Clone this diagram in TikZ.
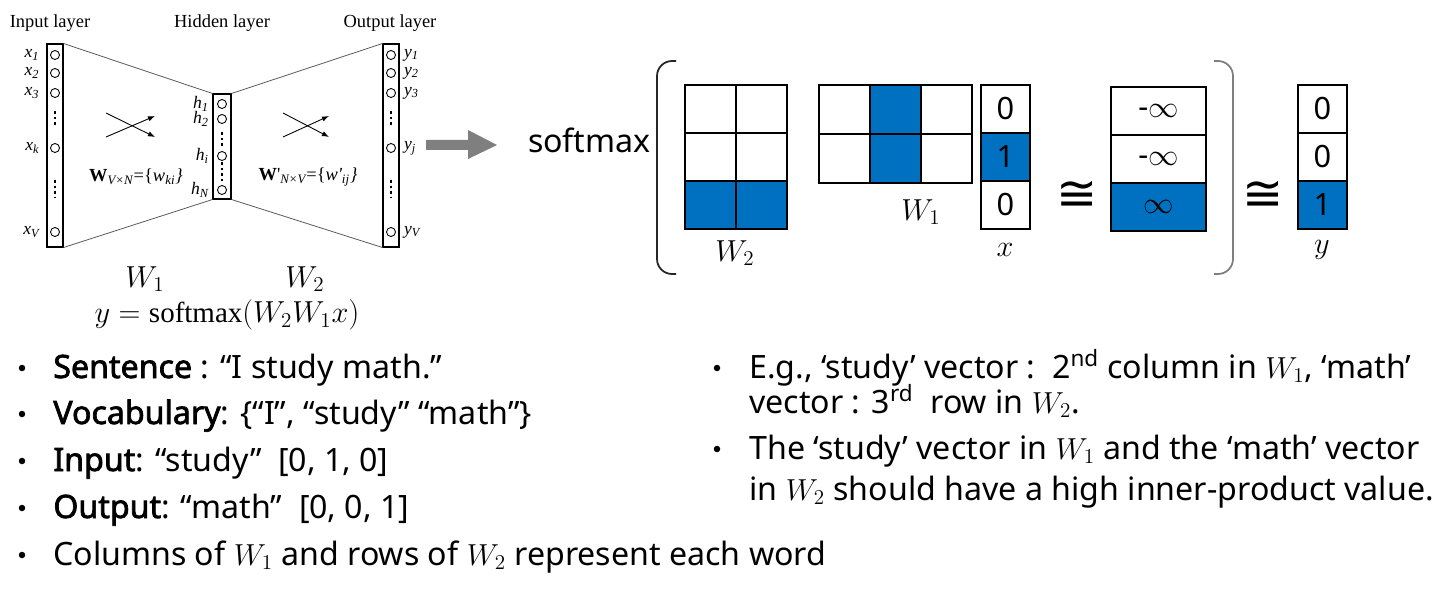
\documentclass[tikz,border=0pt]{standalone}
\usepackage{amsmath,amssymb}
\usepackage{fontspec}
\setmainfont{Noto Sans}[BoldFont={Noto Sans}, BoldFeatures={FakeBold=2.2}]
\newfontfamily\wvtimes{Liberation Serif}
\newfontfamily\wvsym{DejaVu Sans}
\definecolor{wvink}{HTML}{000000}
\definecolor{wvblue}{HTML}{0070C0}
\definecolor{wvgray}{HTML}{7F7F7F}
\definecolor{wvline}{HTML}{595959}
\usetikzlibrary{arrows.meta,positioning,calc}
\tikzset{
  wvlayer/.style ={rectangle, draw=wvink, line width=0.6pt, inner sep=0pt},
  wvunit/.style  ={circle, draw=wvink, line width=0.5pt, minimum size=0.18cm, inner sep=0pt},
  wvlbl/.style   ={font=\wvtimes\fontsize{10}{12}\selectfont\itshape, inner sep=1pt},
  wvhead/.style  ={font=\wvtimes\fontsize{10.5}{12}\selectfont, inner sep=0pt},
  wvthin/.style  ={draw=wvline, line width=0.45pt},
  wvcross/.style ={-{Latex[length=4pt,width=3pt]}, line width=0.5pt, draw=wvink},
  wvdots/.style  ={line width=1.6pt, draw=wvink, dash pattern=on 1.6pt off 1.6pt},
  wvcell/.style  ={rectangle, draw=wvink, line width=1.4pt, fill=white, inner sep=0pt,
                   font=\fontsize{17.5}{20}\selectfont, text=wvink},
  wvhot/.style   ={wvcell, fill=wvblue},
  wvmath/.style  ={font=\fontsize{16.5}{19}\selectfont, inner sep=0pt},
  wvcong/.style  ={font=\wvsym\fontsize{28}{30}\selectfont, inner sep=0pt},
  wvparen/.style ={line width=1pt, rounded corners=0.3cm},
  wvtxt/.style   ={font=\fontsize{18.3}{21}\selectfont, text=wvink, inner sep=0pt, anchor=base west},
  wvdot/.style   ={circle, fill=wvink, minimum size=0.13cm, inner sep=0pt},
}
\newcommand{\wvsub}[2]{#1\textsubscript{#2}}

\begin{document}
\begin{tikzpicture}[x=0.02cm, y=-0.02cm]
  \useasboundingbox (0,0) rectangle (1440,591);
  % network sketch
  \node[wvhead] (hin)  at (50,23)  {Input layer};
  \node[wvhead] (hhid) at (222,23) {Hidden layer};
  \node[wvhead] (hout) at (390,23) {Output layer};
  \node[wvlayer, minimum width=0.32cm, minimum height=4.06cm] (inp) at (55,145.5) {};
  \node[wvlayer, minimum width=0.36cm, minimum height=2.1cm]  (hid) at (222,146.5) {};
  \node[wvlayer, minimum width=0.32cm, minimum height=4.06cm] (out) at (391,145.5) {};
  \foreach \n/\y/\s/\t in {1/55/1/1, 2/73/2/2, 3/93/3/3, k/148/k/j, V/232/V/V}{
    \node[wvunit] (x\n) at (55,\y) {};
    \node[wvlbl, left=0.17cm of x\n] (lx\n) {\wvsub{x}{\s}};
    \node[wvunit] (y\n) at (391,\y) {};
    \node[wvlbl, right=0.12cm of y\n] (ly\n) {\wvsub{y}{\t}};
  }
  \foreach \n/\y in {1/104, 2/119, i/156, N/190}{
    \node[wvunit] (h\n) at (222,\y) {};
    \node[wvlbl, left=0.12cm of h\n] (lh\n) {\wvsub{h}{\n}};
  }
  \draw[wvdots] (55,111) -- (55,127);
  \draw[wvdots] (55,180) -- (55,198);
  \draw[wvdots] (391,111) -- (391,127);
  \draw[wvdots] (391,180) -- (391,198);
  \draw[wvdots] (222,132) -- (222,147);
  \draw[wvdots] (222,162) -- (222,181);
  \draw[wvthin] (inp.north east) -- (hid.north west);
  \draw[wvthin] (inp.south east) -- (hid.south west);
  \draw[wvthin] (hid.north east) -- (out.north west);
  \draw[wvthin] (hid.south east) -- (out.south west);
  \draw[wvcross] (106,113) -- (155,137);
  \draw[wvcross] (106,137) -- (155,116);
  \draw[wvcross] (283,113) -- (329,137);
  \draw[wvcross] (283,137) -- (329,116);
  \node[wvhead, font=\wvtimes\fontsize{10.5}{12}\selectfont] (wa) at (136,177)
    {\textbf{W}\textsubscript{\itshape V×N}=\{\itshape w\textsubscript{ki}\}};
  \node[wvhead, font=\wvtimes\fontsize{10.5}{12}\selectfont] (wb) at (308,177)
    {\textbf{W}'\textsubscript{\itshape N×V}=\{\itshape w'\textsubscript{ij}\}};
  \node[wvmath] (lw1) at (145,279) {$W_1$};
  \node[wvmath] (lw2) at (305,279) {$W_2$};
  \node[wvmath] (form) at (227,315) {$y=\text{\wvtimes softmax}(W_2W_1x)$};
  % gray arrow
  \fill[wvgray] (426,140) -- (468,140) -- (468,130) -- (497,145)
    -- (468,159) -- (468,150) -- (426,150) -- cycle;
  % softmax of the products
  \node[font=\fontsize{18.3}{20}\selectfont, inner sep=0pt, anchor=east] (smax) at (651,140) {softmax};
  \draw[wvparen, draw=wvink!85] (676,61) -- (657,61) -- (657,274) -- (676,274);
  \draw[wvparen, draw=wvgray] (1214,61) -- (1233,61) -- (1233,274) -- (1214,274);
  \foreach \r/\s in {1/wvcell, 2/wvcell, 3/wvhot}
    \foreach \c in {1,2}
      \node[\s, minimum width=1.02cm, minimum height=0.96cm]
        (wb-\r-\c) at ({685+51*(\c-0.5)},{85+48*(\r-0.5)}) {};
  \foreach \c/\s in {1/wvcell, 2/wvhot, 3/wvcell}
    \foreach \r in {1,2}
      \node[\s, minimum width=1.02cm, minimum height=0.98cm]
        (wa-\r-\c) at ({819+51*(\c-0.5)},{85+49*(\r-0.5)}) {};
  \foreach \r/\s/\v in {1/wvcell/0, 2/wvhot/1, 3/wvcell/0}
    \node[\s, minimum width=0.98cm, minimum height=0.96cm]
      (vx-\r) at (1005.5,{85+48*(\r-0.5)}) {\v};
  \foreach \r/\s/\v in {1/wvcell/-$\infty$, 2/wvcell/-$\infty$, 3/wvhot/$\infty$}
    \node[\s, minimum width=1.9cm, minimum height=0.96cm]
      (vz-\r) at (1158.5,{87+48*(\r-0.5)}) {\v};
  \foreach \r/\s/\v in {1/wvcell/0, 2/wvcell/0, 3/wvhot/1}
    \node[\s, minimum width=0.98cm, minimum height=0.96cm]
      (vy-\r) at (1322.5,{85+48*(\r-0.5)}) {\v};
  \node[wvmath] (tw2) at (735,253) {$W_2$};
  \node[wvmath] (tw1) at (921,212) {$W_1$};
  \node[wvmath] (tx)  at (1005,250) {$x$};
  \node[wvmath] (ty)  at (1322,250) {$y$};
  \node[wvcong] (eq1) at (1077,196) {≅};
  \node[wvcong] (eq2) at (1263,196) {≅};
  % bullets, left column
  \foreach \n/\y in {1/368, 2/414, 3/461, 4/508, 5/555}
    \node[wvdot] (dl\n) at (22,\y) {};
  \node[wvtxt] (bl1) at (53,378) {\textbf{Sentence} : “I study math.”};
  \node[wvtxt] (bl2) at (53,424) {\textbf{Vocabulary}: \{“I”, “study” “math”\}};
  \node[wvtxt] (bl3) at (53,471) {\textbf{Input}: “study”\ \ [0, 1, 0]};
  \node[wvtxt] (bl4) at (53,518) {\textbf{Output}: “math”\ \ [0, 0, 1]};
  \node[wvtxt] (bl5) at (53,565) {Columns of $W_1$ and rows of $W_2$ represent each word};
  % bullets, right column
  \foreach \n/\y in {1/368, 2/449}
    \node[wvdot] (dr\n) at (717,\y) {};
  \node[wvtxt] (br1) at (749,378) {E.g., ‘study’ vector :\ \ 2\textsuperscript{nd} column in $W_1$, ‘math’};
  \node[wvtxt] (br2) at (749,413) {vector : 3\textsuperscript{rd}\ \ row in $W_2$.};
  \node[wvtxt] (br3) at (749,459) {The ‘study’ vector in $W_1$ and the ‘math’ vector};
  \node[wvtxt] (br4) at (749,500) {in $W_2$ should have a high inner-product value.};
\end{tikzpicture}
\end{document}
